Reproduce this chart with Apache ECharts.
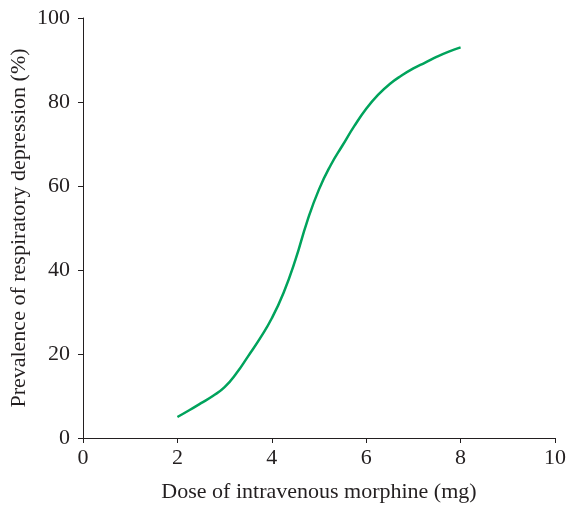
<!DOCTYPE html>
<html>
<head>
<meta charset="utf-8">
<script src="https://cdn.jsdelivr.net/npm/echarts@6/dist/echarts.min.js"></script>
<style>html,body{margin:0;padding:0;background:#fff}#c{width:566px;height:506px}</style>
</head>
<body>
<div id="c"></div>
<script>
const doseMg = [2, 2.25, 2.5, 2.75, 3, 3.25, 3.5, 3.75, 4, 4.25, 4.5, 4.75, 5, 5.25, 5.5, 5.75, 6, 6.25, 6.5, 6.75, 7, 7.25, 7.5, 7.75, 8];
const prevalencePct = [5, 6.6, 8.3, 10, 12.1, 15.4, 19.5, 23.7, 28.5, 34.6, 42.4, 51.6, 59.2, 65, 69.7, 74.3, 78.4, 81.7, 84.3, 86.3, 88, 89.4, 90.8, 92, 93];
const xTicks = [0, 2, 4, 6, 8, 10];
const yTicks = [0, 20, 40, 60, 80, 100];

const chart = echarts.init(document.getElementById('c'));
const font = 'Liberation Serif';
const ink = '#231f20';
chart.setOption({
  animation: false,
  grid: {left: 83, right: 11, top: 18, bottom: 68, containLabel: false, outerBoundsMode: 'none'},
  xAxis: {
    type: 'value', min: xTicks[0], max: xTicks[xTicks.length - 1], interval: 2,
    name: 'Dose of intravenous morphine (mg)', nameLocation: 'middle', nameGap: 43,
    nameMoveOverlap: false,
    nameTextStyle: {fontFamily: font, fontSize: 22, color: ink},
    axisLine: {lineStyle: {color: ink, width: 1}},
    axisTick: {show: true, length: 5, lineStyle: {color: ink}},
    axisLabel: {fontFamily: font, fontSize: 22, color: ink, margin: 9},
    splitLine: {show: false}
  },
  yAxis: {
    type: 'value', min: yTicks[0], max: yTicks[yTicks.length - 1], interval: 20,
    name: 'Prevalence of respiratory depression (%)', nameLocation: 'middle', nameGap: 53,
    nameMoveOverlap: false,
    nameTextStyle: {fontFamily: font, fontSize: 22, color: ink},
    axisLine: {show: true, lineStyle: {color: ink, width: 1}},
    axisTick: {show: true, length: 5, lineStyle: {color: ink}},
    axisLabel: {fontFamily: font, fontSize: 22, color: ink, margin: 13},
    splitLine: {show: false}
  },
  series: [{
    type: 'line', smooth: 0.5, showSymbol: false,
    data: doseMg.map((d, i) => [d, prevalencePct[i]]),
    lineStyle: {color: '#00a35c', width: 2.5}
  }]
});
</script>
</body>
</html>
